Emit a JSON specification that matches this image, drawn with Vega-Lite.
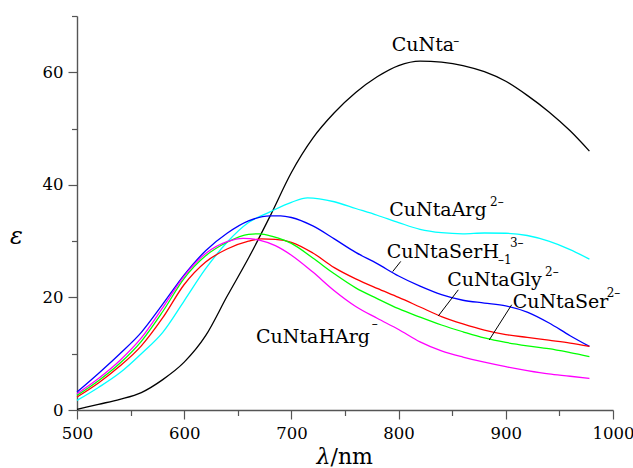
{
  "$schema": "https://vega.github.io/schema/vega-lite/v6.json",
  "autosize": {"type": "none"},
  "padding": {"left": 77, "top": 16, "right": 20, "bottom": 58},
  "width": 536,
  "height": 394,
  "background": "white",
  "config": {
    "font": "DejaVu Serif",
    "view": {"stroke": null},
    "axis": {
      "grid": false,
      "domainColor": "#555555",
      "domainWidth": 1.4,
      "tickColor": "#555555",
      "tickWidth": 1.2,
      "labelFont": "DejaVu Serif",
      "labelFontSize": 16.5,
      "labelColor": "#000000",
      "titleFont": "DejaVu Serif",
      "titleColor": "#000000",
      "titleFontWeight": "normal"
    }
  },
  "datasets": {
    "spectra": [
      {"s": "CuNta", "lam": 500, "eps": 0.1}, {"s": "CuNta", "lam": 520, "eps": 1.0}, {"s": "CuNta", "lam": 540, "eps": 1.9},
      {"s": "CuNta", "lam": 560, "eps": 3.1}, {"s": "CuNta", "lam": 580, "eps": 5.4}, {"s": "CuNta", "lam": 600, "eps": 8.5},
      {"s": "CuNta", "lam": 620, "eps": 13.2}, {"s": "CuNta", "lam": 640, "eps": 20.2}, {"s": "CuNta", "lam": 660, "eps": 27.0},
      {"s": "CuNta", "lam": 680, "eps": 34.4}, {"s": "CuNta", "lam": 700, "eps": 42.2}, {"s": "CuNta", "lam": 720, "eps": 48.3},
      {"s": "CuNta", "lam": 740, "eps": 52.8}, {"s": "CuNta", "lam": 760, "eps": 56.4}, {"s": "CuNta", "lam": 780, "eps": 59.2},
      {"s": "CuNta", "lam": 800, "eps": 61.2}, {"s": "CuNta", "lam": 820, "eps": 62.0}, {"s": "CuNta", "lam": 840, "eps": 61.8},
      {"s": "CuNta", "lam": 860, "eps": 61.2}, {"s": "CuNta", "lam": 880, "eps": 60.1}, {"s": "CuNta", "lam": 900, "eps": 58.4},
      {"s": "CuNta", "lam": 920, "eps": 55.9}, {"s": "CuNta", "lam": 940, "eps": 53.0}, {"s": "CuNta", "lam": 960, "eps": 49.6},
      {"s": "CuNta", "lam": 978, "eps": 46.0},

      {"s": "CuNtaArg", "lam": 500, "eps": 1.7}, {"s": "CuNtaArg", "lam": 520, "eps": 4.0}, {"s": "CuNtaArg", "lam": 540, "eps": 6.6},
      {"s": "CuNtaArg", "lam": 560, "eps": 10.0}, {"s": "CuNtaArg", "lam": 580, "eps": 13.8}, {"s": "CuNtaArg", "lam": 600, "eps": 19.4},
      {"s": "CuNtaArg", "lam": 620, "eps": 25.1}, {"s": "CuNtaArg", "lam": 640, "eps": 29.8}, {"s": "CuNtaArg", "lam": 660, "eps": 33.3},
      {"s": "CuNtaArg", "lam": 680, "eps": 35.2}, {"s": "CuNtaArg", "lam": 700, "eps": 36.9}, {"s": "CuNtaArg", "lam": 715, "eps": 37.7},
      {"s": "CuNtaArg", "lam": 740, "eps": 37.0}, {"s": "CuNtaArg", "lam": 760, "eps": 35.8}, {"s": "CuNtaArg", "lam": 780, "eps": 34.6},
      {"s": "CuNtaArg", "lam": 800, "eps": 33.3}, {"s": "CuNtaArg", "lam": 820, "eps": 32.1}, {"s": "CuNtaArg", "lam": 840, "eps": 31.5},
      {"s": "CuNtaArg", "lam": 860, "eps": 31.3}, {"s": "CuNtaArg", "lam": 880, "eps": 31.45}, {"s": "CuNtaArg", "lam": 900, "eps": 31.4},
      {"s": "CuNtaArg", "lam": 920, "eps": 31.0}, {"s": "CuNtaArg", "lam": 940, "eps": 30.0}, {"s": "CuNtaArg", "lam": 960, "eps": 28.5},
      {"s": "CuNtaArg", "lam": 978, "eps": 26.8},

      {"s": "CuNtaSerH", "lam": 500, "eps": 3.2}, {"s": "CuNtaSerH", "lam": 520, "eps": 6.5}, {"s": "CuNtaSerH", "lam": 540, "eps": 10.0},
      {"s": "CuNtaSerH", "lam": 560, "eps": 13.8}, {"s": "CuNtaSerH", "lam": 580, "eps": 18.8}, {"s": "CuNtaSerH", "lam": 600, "eps": 24.0},
      {"s": "CuNtaSerH", "lam": 620, "eps": 28.3}, {"s": "CuNtaSerH", "lam": 640, "eps": 31.4}, {"s": "CuNtaSerH", "lam": 660, "eps": 33.6},
      {"s": "CuNtaSerH", "lam": 680, "eps": 34.5}, {"s": "CuNtaSerH", "lam": 690, "eps": 34.5}, {"s": "CuNtaSerH", "lam": 700, "eps": 34.2},
      {"s": "CuNtaSerH", "lam": 720, "eps": 32.7}, {"s": "CuNtaSerH", "lam": 740, "eps": 30.4}, {"s": "CuNtaSerH", "lam": 760, "eps": 28.0},
      {"s": "CuNtaSerH", "lam": 780, "eps": 26.0}, {"s": "CuNtaSerH", "lam": 800, "eps": 23.8}, {"s": "CuNtaSerH", "lam": 820, "eps": 22.0},
      {"s": "CuNtaSerH", "lam": 840, "eps": 20.5}, {"s": "CuNtaSerH", "lam": 860, "eps": 19.5}, {"s": "CuNtaSerH", "lam": 880, "eps": 19.0},
      {"s": "CuNtaSerH", "lam": 900, "eps": 18.5}, {"s": "CuNtaSerH", "lam": 920, "eps": 17.4}, {"s": "CuNtaSerH", "lam": 940, "eps": 15.5},
      {"s": "CuNtaSerH", "lam": 960, "eps": 13.2}, {"s": "CuNtaSerH", "lam": 978, "eps": 11.3},

      {"s": "CuNtaGly", "lam": 500, "eps": 2.3}, {"s": "CuNtaGly", "lam": 520, "eps": 4.8}, {"s": "CuNtaGly", "lam": 540, "eps": 7.8},
      {"s": "CuNtaGly", "lam": 560, "eps": 11.4}, {"s": "CuNtaGly", "lam": 580, "eps": 16.4}, {"s": "CuNtaGly", "lam": 600, "eps": 22.3},
      {"s": "CuNtaGly", "lam": 620, "eps": 26.3}, {"s": "CuNtaGly", "lam": 640, "eps": 28.6}, {"s": "CuNtaGly", "lam": 660, "eps": 30.0},
      {"s": "CuNtaGly", "lam": 672, "eps": 30.4}, {"s": "CuNtaGly", "lam": 685, "eps": 30.3}, {"s": "CuNtaGly", "lam": 700, "eps": 29.8},
      {"s": "CuNtaGly", "lam": 720, "eps": 27.9}, {"s": "CuNtaGly", "lam": 740, "eps": 25.3}, {"s": "CuNtaGly", "lam": 760, "eps": 23.3},
      {"s": "CuNtaGly", "lam": 780, "eps": 21.6}, {"s": "CuNtaGly", "lam": 800, "eps": 20.0}, {"s": "CuNtaGly", "lam": 820, "eps": 18.3},
      {"s": "CuNtaGly", "lam": 840, "eps": 16.6}, {"s": "CuNtaGly", "lam": 860, "eps": 15.3}, {"s": "CuNtaGly", "lam": 880, "eps": 14.2},
      {"s": "CuNtaGly", "lam": 900, "eps": 13.4}, {"s": "CuNtaGly", "lam": 920, "eps": 12.9}, {"s": "CuNtaGly", "lam": 940, "eps": 12.4},
      {"s": "CuNtaGly", "lam": 960, "eps": 11.9}, {"s": "CuNtaGly", "lam": 978, "eps": 11.3},

      {"s": "CuNtaSer", "lam": 500, "eps": 2.6}, {"s": "CuNtaSer", "lam": 520, "eps": 5.2}, {"s": "CuNtaSer", "lam": 540, "eps": 8.3},
      {"s": "CuNtaSer", "lam": 560, "eps": 12.2}, {"s": "CuNtaSer", "lam": 580, "eps": 17.5}, {"s": "CuNtaSer", "lam": 600, "eps": 23.4},
      {"s": "CuNtaSer", "lam": 620, "eps": 27.4}, {"s": "CuNtaSer", "lam": 640, "eps": 29.8}, {"s": "CuNtaSer", "lam": 660, "eps": 31.2},
      {"s": "CuNtaSer", "lam": 670, "eps": 31.3}, {"s": "CuNtaSer", "lam": 683, "eps": 30.8}, {"s": "CuNtaSer", "lam": 700, "eps": 29.6},
      {"s": "CuNtaSer", "lam": 720, "eps": 27.0}, {"s": "CuNtaSer", "lam": 740, "eps": 24.2}, {"s": "CuNtaSer", "lam": 760, "eps": 21.7},
      {"s": "CuNtaSer", "lam": 780, "eps": 19.8}, {"s": "CuNtaSer", "lam": 800, "eps": 18.0}, {"s": "CuNtaSer", "lam": 820, "eps": 16.5},
      {"s": "CuNtaSer", "lam": 840, "eps": 15.1}, {"s": "CuNtaSer", "lam": 860, "eps": 13.9}, {"s": "CuNtaSer", "lam": 880, "eps": 12.8},
      {"s": "CuNtaSer", "lam": 900, "eps": 12.0}, {"s": "CuNtaSer", "lam": 920, "eps": 11.4}, {"s": "CuNtaSer", "lam": 940, "eps": 10.9},
      {"s": "CuNtaSer", "lam": 960, "eps": 10.2}, {"s": "CuNtaSer", "lam": 978, "eps": 9.5},

      {"s": "CuNtaHArg", "lam": 500, "eps": 2.9}, {"s": "CuNtaHArg", "lam": 520, "eps": 5.6}, {"s": "CuNtaHArg", "lam": 540, "eps": 8.8},
      {"s": "CuNtaHArg", "lam": 560, "eps": 12.8}, {"s": "CuNtaHArg", "lam": 580, "eps": 18.2}, {"s": "CuNtaHArg", "lam": 600, "eps": 23.8},
      {"s": "CuNtaHArg", "lam": 620, "eps": 27.8}, {"s": "CuNtaHArg", "lam": 640, "eps": 29.9}, {"s": "CuNtaHArg", "lam": 655, "eps": 30.5},
      {"s": "CuNtaHArg", "lam": 670, "eps": 30.2}, {"s": "CuNtaHArg", "lam": 685, "eps": 29.2}, {"s": "CuNtaHArg", "lam": 700, "eps": 27.5},
      {"s": "CuNtaHArg", "lam": 720, "eps": 24.5}, {"s": "CuNtaHArg", "lam": 740, "eps": 21.2}, {"s": "CuNtaHArg", "lam": 760, "eps": 18.4},
      {"s": "CuNtaHArg", "lam": 780, "eps": 16.3}, {"s": "CuNtaHArg", "lam": 800, "eps": 14.3}, {"s": "CuNtaHArg", "lam": 820, "eps": 12.1},
      {"s": "CuNtaHArg", "lam": 840, "eps": 10.5}, {"s": "CuNtaHArg", "lam": 860, "eps": 9.4}, {"s": "CuNtaHArg", "lam": 880, "eps": 8.5},
      {"s": "CuNtaHArg", "lam": 900, "eps": 7.7}, {"s": "CuNtaHArg", "lam": 920, "eps": 7.0}, {"s": "CuNtaHArg", "lam": 940, "eps": 6.4},
      {"s": "CuNtaHArg", "lam": 960, "eps": 6.0}, {"s": "CuNtaHArg", "lam": 978, "eps": 5.6}
    ],
    "names": [
      {"text": "CuNta", "lam": 793.6, "eps": 63.75},
      {"text": "CuNtaArg", "lam": 791.3, "eps": 34.5},
      {"text": "CuNtaSerH", "lam": 788.9, "eps": 27.0},
      {"text": "CuNtaGly", "lam": 845.4, "eps": 22.06},
      {"text": "CuNtaSer", "lam": 906.4, "eps": 18.1},
      {"text": "CuNtaHArg", "lam": 667.0, "eps": 11.87}
    ],
    "charges": [
      {"text": "–", "lam": 851.0, "eps": 64.8},
      {"text": "2–", "lam": 885.3, "eps": 36.3},
      {"text": "–1", "lam": 892.7, "eps": 26.0},
      {"text": "3–", "lam": 903.9, "eps": 29.0},
      {"text": "2–", "lam": 936.6, "eps": 23.8},
      {"text": "2–", "lam": 994.1, "eps": 20.0},
      {"text": "–", "lam": 774.9, "eps": 14.5}
    ],
    "leaders": [
      {"lam": 794.5, "eps": 24.6, "lam2": 802.0, "eps2": 26.4},
      {"lam": 837.0, "eps": 16.7, "lam2": 855.7, "eps2": 21.35},
      {"lam": 884.6, "eps": 12.46, "lam2": 905.5, "eps2": 18.7}
    ]
  },
  "layer": [
    {
      "data": {"name": "spectra"},
      "mark": {"type": "line", "interpolate": "monotone", "strokeWidth": 1.3},
      "encoding": {
        "x": {
          "field": "lam", "type": "quantitative",
          "scale": {"domain": [500, 1000], "nice": false, "zero": false},
          "axis": {
            "orient": "bottom",
            "values": [500, 600, 700, 800, 900, 1000],
            "format": "d",
            "tickSize": 9, "labelPadding": 6, "labelFlush": false,
            "title": "/nm", "titleFontSize": 22,
            "titleX": 253, "titleY": 53, "titleAlign": "left", "titleBaseline": "alphabetic"
          }
        },
        "y": {
          "field": "eps", "type": "quantitative",
          "scale": {"domain": [0, 70], "nice": false},
          "axis": {
            "orient": "left",
            "values": [0, 20, 40, 60],
            "tickSize": 9, "labelPadding": 5, "labelFlush": false,
            "title": "ε", "titleAngle": 0, "titleFontSize": 24, "titleFontStyle": "italic",
            "titleX": -61, "titleY": 220, "titleAlign": "center", "titleBaseline": "middle"
          }
        },
        "color": {
          "field": "s", "type": "nominal",
          "scale": {
            "domain": ["CuNta", "CuNtaArg", "CuNtaSerH", "CuNtaGly", "CuNtaSer", "CuNtaHArg"],
            "range": ["#000000", "#00ffff", "#0000ff", "#ff0000", "#00ff00", "#ff00ff"]
          },
          "legend": null
        }
      }
    },
    {
      "data": {"name": "names"},
      "mark": {"type": "text", "font": "DejaVu Serif", "fontSize": 19, "align": "left", "baseline": "alphabetic", "color": "#000000"},
      "encoding": {
        "x": {
          "field": "lam", "type": "quantitative",
          "scale": {"domain": [500, 1000], "nice": false, "zero": false},
          "axis": {
            "orient": "bottom",
            "values": [550, 650, 750, 850, 950],
            "tickSize": 5.5, "labels": false, "domain": false,
            "title": "λ", "titleFontSize": 22, "titleFontStyle": "italic",
            "titleX": 253, "titleY": 53, "titleAlign": "right", "titleBaseline": "alphabetic"
          }
        },
        "y": {
          "field": "eps", "type": "quantitative",
          "scale": {"domain": [0, 70], "nice": false},
          "axis": {
            "orient": "left",
            "values": [10, 30, 50, 70],
            "tickSize": 5.5, "labels": false, "domain": false, "title": null
          }
        },
        "text": {"field": "text"}
      }
    },
    {
      "data": {"name": "charges"},
      "mark": {"type": "text", "font": "DejaVu Serif", "fontSize": 12, "align": "left", "baseline": "alphabetic", "color": "#000000"},
      "encoding": {
        "x": {"field": "lam", "type": "quantitative", "axis": null},
        "y": {"field": "eps", "type": "quantitative", "axis": null},
        "text": {"field": "text"}
      }
    },
    {
      "data": {"name": "leaders"},
      "mark": {"type": "rule", "color": "#000000", "strokeWidth": 1},
      "encoding": {
        "x": {"field": "lam", "type": "quantitative", "axis": null},
        "y": {"field": "eps", "type": "quantitative", "axis": null},
        "x2": {"field": "lam2"},
        "y2": {"field": "eps2"}
      }
    }
  ],
  "resolve": {"axis": {"x": "independent", "y": "independent"}}
}
